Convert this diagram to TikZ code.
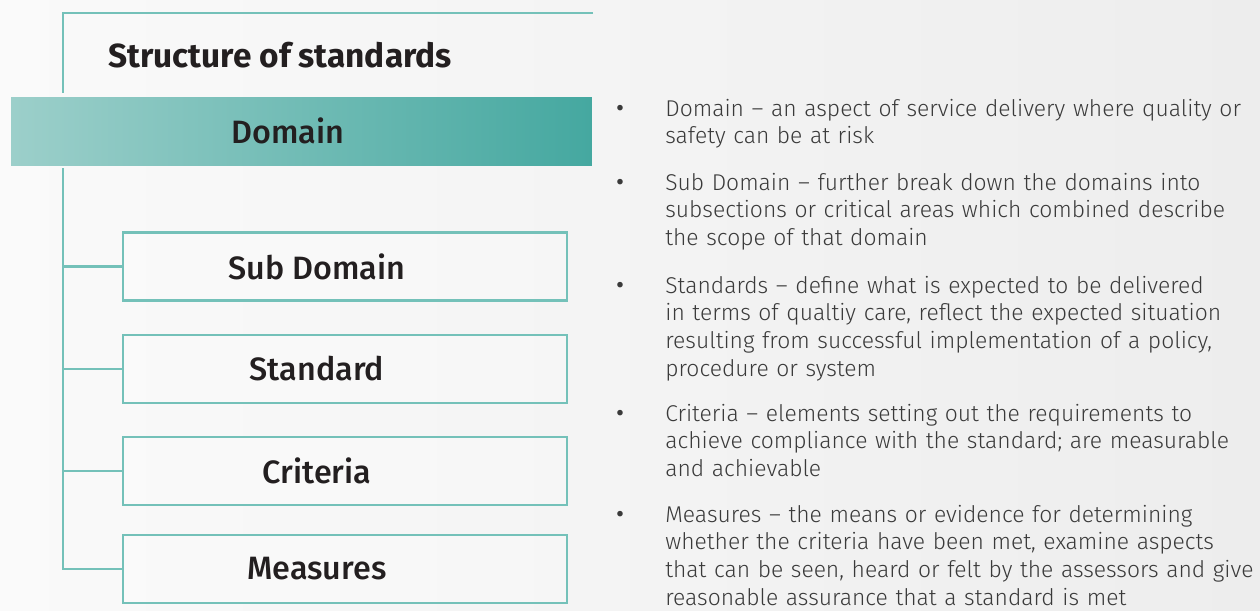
\documentclass[tikz,border=0pt]{standalone}
\usepackage{fontspec}
\setmainfont{Fira Sans}
\newfontfamily\lightfont[Ligatures=TeX]{Fira Sans Light}
\newfontfamily\medfont{Fira Sans Medium}
\usetikzlibrary{positioning}
\definecolor{tealline}{HTML}{74C1B9}
\definecolor{tealL}{HTML}{9CCFCA}
\definecolor{tealD}{HTML}{45A8A0}
\definecolor{txtdark}{HTML}{231F20}
\definecolor{txtgray}{HTML}{3A3A3A}
\definecolor{bgL}{HTML}{FAFAFA}
\definecolor{bgR}{HTML}{EDEDED}

\tikzset{
  link/.style={draw=tealline, line width=1.5pt},
  levelbox/.style={draw=tealline, line width=1.4pt, fill=white, fill opacity=0.25, text opacity=1,
    minimum width=8.88cm, minimum height=1.36cm, inner sep=0pt, text=txtdark,
    font=\medfont\fontsize{18.4}{22}\selectfont, execute at begin node={\hspace*{-1.12cm}}},
  domainbar/.style={left color=tealL, right color=tealD, minimum width=11.62cm, minimum height=1.36cm,
    inner sep=0pt, text=txtdark, font=\medfont\fontsize{18.4}{22}\selectfont,
    execute at begin node={\hspace*{-0.54cm}}},
  item/.style={anchor=base west, text width=12.2cm, align=left, inner sep=0pt, text=txtgray,
    font=\lightfont\fontsize{13}{15.9}\selectfont},
  bul/.style={anchor=base, inner sep=0pt, text=txtgray, font=\fontsize{14}{15.9}\selectfont}
}

\begin{document}
\begin{tikzpicture}[x=0.02cm, y=-0.02cm]
\useasboundingbox (0,0) rectangle (1260,610);
\shade[left color=bgL, right color=bgR] (0,0) rectangle (1260,610); % background

\node[anchor=base west, inner sep=0pt, text=txtdark, font=\bfseries\fontsize{19}{22}\selectfont] (title) at (108,67) {Structure of standards};
\node[domainbar] (dom) at (301.5,131) {Domain};

\node[levelbox] (sub) at (345,266.5) {Sub Domain};
\node[levelbox] (std) at (345,369) {Standard};
\node[levelbox] (crit) at (345,471) {Criteria};
\node[levelbox] (meas) at (345,569) {Measures};

\coordinate (frameR) at (593,13); % top frame
\coordinate (frameB) at (63,93);
\coordinate (trunk) at (63,168); % trunk under the domain bar
\draw[link] (frameR) -| (frameB);
\draw[link] (trunk) |- (meas.west);
\draw[link] (sub.west -| trunk) -- (sub.west);
\draw[link] (std.west -| trunk) -- (std.west);
\draw[link] (crit.west -| trunk) -- (crit.west);

% descriptions
\node[item] (t1) at (665,116) {Domain – an aspect of service delivery where quality or\\safety can be at risk};
\node[item] (t2) at (665,190) {Sub Domain – further break down the domains into\\subsections or critical areas which combined describe\\the scope of that domain};
\node[item] (t3) at (665,293) {Standards – define what is expected to be delivered\\in terms of qualtiy care, reflect the expected situation\\resulting from successful implementation of a policy,\\procedure or system};
\node[item] (t4) at (665,421) {Criteria – elements setting out the requirements to\\achieve compliance with the standard; are measurable\\and achievable};
\node[item] (t5) at (665,522) {Measures – the means or evidence for determining\\whether the criteria have been met, examine aspects\\that can be seen, heard or felt by the assessors and give\\reasonable assurance that a standard is met};
\node[bul] (b1) at (620,116) {•};
\node[bul] (b2) at (620,190) {•};
\node[bul] (b3) at (620,293) {•};
\node[bul] (b4) at (620,421) {•};
\node[bul] (b5) at (620,522) {•};
\end{tikzpicture}
\end{document}
